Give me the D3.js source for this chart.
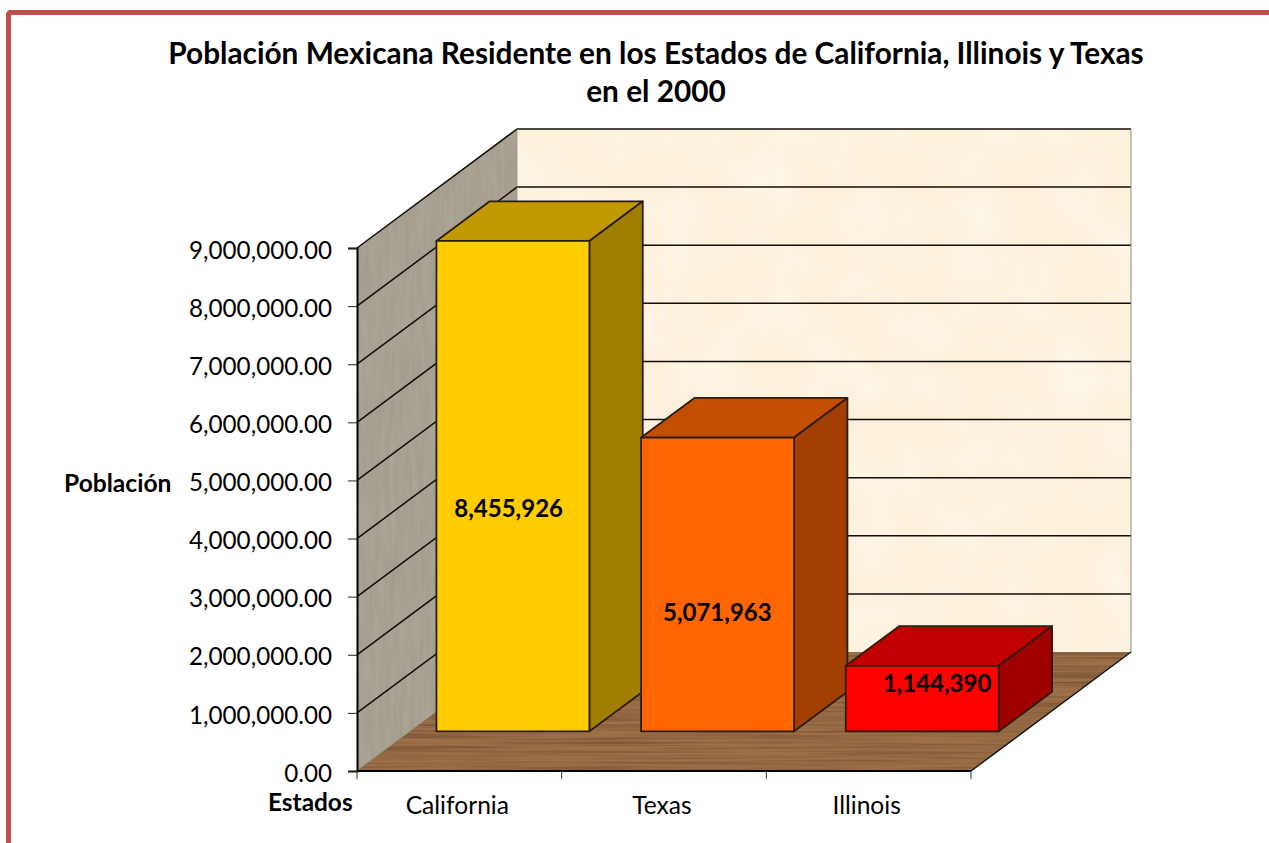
<!DOCTYPE html>
<html><head><meta charset="utf-8">
<script src="https://cdn.jsdelivr.net/npm/d3@7"></script>
<style>html,body{margin:0;padding:0;background:#fff;overflow:hidden}svg{display:block}text{font-family:Lato,"Open Sans",sans-serif;fill:#000}</style>
</head><body><svg id="c" width="1269" height="843"></svg>
<script>
const categories = ["California","Texas","Illinois"];
const population = [8455926,5071963,1144390];
const labels = ["8,455,926","5,071,963","1,144,390"];
const titleLines = ["Población Mexicana Residente en los Estados de California, Illinois y Texas","en el 2000"];
const yTicks = [0,1e6,2e6,3e6,4e6,5e6,6e6,7e6,8e6,9e6];
const frontColors = ["#FFCC00","#FF6600","#FF0000"];
const topColors = ["#C09A00","#C24E00","#C00000"];
const sideColors = ["#A07F00","#A33F00","#A00000"];
const labelNudge = [[-4,23],[0,29],[15,-14]];

const svg = d3.select("#c");
const y = d3.scaleLinear().domain([0,9e6]).range([771,248]);
const x = d3.scaleBand().domain(categories).range([357,971]).paddingInner(0.25).paddingOuter(0.125);
// depth: 0 = front plane of the box, 1 = back wall
const dx = d3.scaleLinear().domain([0,1]).range([0,160]);
const dy = d3.scaleLinear().domain([0,1]).range([0,-119]);
const P = (px,py,d)=>[px+dx(d),py+dy(d)];
const poly = pts=>pts.map(p=>p.join(",")).join(" ");

// texture filters
const defs = svg.append("defs");
function tex(id,freq,oct,k,b,seed,rgb){
  const f = defs.append("filter").attr("id",id).attr("x",0).attr("y",0).attr("width",1).attr("height",1);
  f.append("feTurbulence").attr("type","fractalNoise").attr("baseFrequency",freq).attr("numOctaves",oct).attr("seed",seed).attr("result","n");
  f.append("feColorMatrix").attr("in","n").attr("type","matrix").attr("values",`0 0 0 0 ${rgb}  0 0 0 0 ${rgb}  0 0 0 0 ${rgb}  ${k} 0 0 0 ${b}`).attr("result","m");
  f.append("feComposite").attr("in","m").attr("in2","SourceAlpha").attr("operator","in").attr("result","c");
  const mg = f.append("feMerge");
  mg.append("feMergeNode").attr("in","SourceGraphic");
  mg.append("feMergeNode").attr("in","c");
}
tex("wood","0.006 0.45",3,0.8,-0.28,4,0);
tex("stone","0.2 0.02",2,0.22,-0.06,7,0);
tex("paper","0.02",3,0.7,-0.28,3,1);

// page border
svg.append("rect").attr("x",8.5).attr("y",12.5).attr("width",1400).attr("height",1000).attr("rx",2)
  .attr("fill","none").attr("stroke","#C0504D").attr("stroke-width",5);

// title
svg.append("g").selectAll("text").data(titleLines).join("text")
  .attr("x",656).attr("y",(d,i)=>64+i*38).attr("text-anchor","middle")
  .attr("font-size",29.8).attr("font-weight",700).text(d=>d);

const x0 = x.range()[0], x1 = x.range()[1], y0 = y(0), yT = y(9e6);

// walls & floor
svg.append("polygon").attr("points",poly([P(x0,y0,1),P(x1,y0,1),P(x1,yT,1),P(x0,yT,1)]))
  .attr("fill","#FDF1DC").attr("filter","url(#paper)");
svg.append("polygon").attr("points",poly([P(x0,y0,0),P(x0,y0,1),P(x0,yT,1),P(x0,yT,0)]))
  .attr("fill","#ABA597").attr("filter","url(#stone)");
svg.append("polygon").attr("points",poly([P(x0,y0,0),P(x1,y0,0),P(x1,y0,1),P(x0,y0,1)]))
  .attr("fill","#9E7049").attr("filter","url(#wood)");

// gridlines
const grid = svg.append("g").attr("fill","none").attr("stroke","#120d08").attr("stroke-width",1.5);
yTicks.slice(1).forEach(t=>{
  grid.append("polyline").attr("points",poly([P(x0,y(t),0),P(x0,y(t),1),P(x1,y(t),1)]));
});
svg.append("line").attr("x1",P(x1,y0,1)[0]).attr("x2",P(x1,y0,1)[0]).attr("y1",P(x1,yT,1)[1]).attr("y2",P(x1,y0,1)[1])
  .attr("stroke","#8a8a80").attr("stroke-width",1);
svg.append("line").attr("x1",P(x0,y0,1)[0]).attr("x2",P(x0,y0,1)[0]).attr("y1",P(x0,yT,1)[1]).attr("y2",P(x0,y0,1)[1])
  .attr("stroke","#8a8578").attr("stroke-width",0.6);
svg.append("polyline").attr("points",poly([P(x0,y0,0),P(x0,y0,1)])).attr("stroke","#7b6a55").attr("stroke-width",0.8);
svg.append("polyline").attr("points",poly([P(x1,y0,0),P(x1,y0,1)])).attr("stroke","#111").attr("stroke-width",1.4).attr("fill","none");

// bars
const dF = 1/3, dB = 2/3;
const bars = svg.append("g").selectAll("g").data(categories).join("g")
  .attr("stroke","#2b1d10").attr("stroke-width",1.8).attr("stroke-linejoin","round");
bars.each(function(c,i){
  const g = d3.select(this), v = population[i];
  const l = x(c)+0.5, r = l+x.bandwidth()-0.5, t = y(v)+1, b = y(0);
  g.append("polygon").attr("points",poly([P(l,t,dF),P(r,t,dF),P(r,t,dB),P(l,t,dB)])).attr("fill",topColors[i]);
  g.append("polygon").attr("points",poly([P(r,b,dF),P(r,b,dB),P(r,t,dB),P(r,t,dF)])).attr("fill",sideColors[i]);
  g.append("polygon").attr("points",poly([P(l,b,dF),P(r,b,dF),P(r,t,dF),P(l,t,dF)])).attr("fill",frontColors[i]);
});

// y axis
const yAxis = svg.append("g").attr("transform",`translate(${x0},0)`)
  .call(d3.axisLeft(y).tickValues(yTicks).tickFormat(d3.format(",.2f")).tickSize(9).tickPadding(16));
yAxis.select(".domain").attr("stroke","#000").attr("stroke-width",2);
yAxis.selectAll(".tick line").attr("stroke","#222").attr("stroke-width",1);
yAxis.selectAll("text").attr("font-size",24.2).attr("dy","0.42em").style("font-family",'Lato,sans-serif').style("fill","#000");

// x axis
const xBounds = d3.scaleLinear().domain([0,categories.length]).range([x0,x1]);
const xg = svg.append("g");
xg.append("line").attr("x1",x0).attr("x2",x1).attr("y1",y0).attr("y2",y0).attr("stroke","#000").attr("stroke-width",2);
xg.selectAll(".t").data(d3.range(categories.length+1)).join("line").attr("class","t")
  .attr("x1",d=>xBounds(d)).attr("x2",d=>xBounds(d)).attr("y1",y0).attr("y2",y0+8).attr("stroke","#333").attr("stroke-width",1);
xg.selectAll("text").data(categories).join("text")
  .attr("x",d=>x(d)+x.bandwidth()/2-2).attr("y",814).attr("text-anchor","middle").attr("font-size",24.6).text(d=>d);

// value labels
svg.append("g").selectAll("text").data(labels).join("text")
  .attr("x",(d,i)=>P(x(categories[i])+x.bandwidth()/2,0,dF)[0]+labelNudge[i][0])
  .attr("y",(d,i)=>(y(population[i])+y(0))/2+dy(dF)+labelNudge[i][1]+8)
  .attr("text-anchor","middle").attr("font-size",24).attr("font-weight",700).text(d=>d);

// axis titles
svg.append("text").attr("x",64).attr("y",492).attr("font-size",24.6).attr("font-weight",700).text("Población");
svg.append("text").attr("x",268).attr("y",811).attr("font-size",24.4).attr("font-weight",700).text("Estados");
</script></body></html>
